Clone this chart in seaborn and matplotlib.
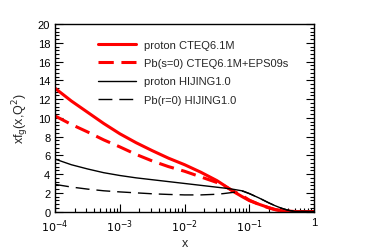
import numpy as np
import pandas as pd
import matplotlib
matplotlib.use("Agg")
import matplotlib.pyplot as plt
import matplotlib.ticker as mticker
import seaborn as sns

# values (log10 x grid)
log_x = [-4, -3.75, -3.5, -3.25, -3, -2.75, -2.5, -2.25, -2, -1.75, -1.5, -1.4,
         -1.25, -1.1, -1, -0.85, -0.7, -0.6, -0.5, -0.4, -0.3, 0]
p_cteq = [13.15, 11.8, 10.6, 9.4, 8.3, 7.35, 6.5, 5.7, 5.0, 4.2, 3.3, 2.85,
          2.15, 1.55, 1.17, 0.78, 0.42, 0.22, 0.10, 0.04, 0.01, 0.0]
pb_eps = [10.2, 9.3, 8.5, 7.65, 6.9, 6.1, 5.4, 4.8, 4.3, 3.7, 3.1, 2.8,
          2.2, 1.65, 1.22, 0.76, 0.40, 0.20, 0.09, 0.03, 0.01, 0.0]
p_hij = [5.6, 5.0, 4.55, 4.15, 3.85, 3.6, 3.4, 3.2, 3.0, 2.8, 2.6, 2.52,
         2.38, 2.2, 1.92, 1.45, 0.93, 0.62, 0.35, 0.14, 0.02, 0.0]
pb_hij = [2.9, 2.62, 2.4, 2.22, 2.1, 2.0, 1.9, 1.83, 1.78, 1.78, 1.85, 1.92,
          2.05, 2.17, 1.92, 1.45, 0.93, 0.62, 0.35, 0.14, 0.02, 0.0]

labels = ["proton CTEQ6.1M", "Pb(s=0) CTEQ6.1M+EPS09s",
          "proton HIJING1.0", "Pb(r=0) HIJING1.0"]
x_vals = [10.0 ** v for v in log_x]

sns.set_style("ticks")
plt.rcParams["font.family"] = ["Liberation Sans", "DejaVu Sans"]

fig = plt.figure(figsize=(3.7, 2.51), dpi=100, facecolor="white")
ax = fig.add_axes([0.149, 0.153, 0.70, 0.747])

styles = [
    dict(color="#ff0000", lw=2.2, ls="-"),
    dict(color="#ff0000", lw=2.2, ls=(0, (5, 2.5))),
    dict(color="black", lw=1.0, ls="-"),
    dict(color="black", lw=1.0, ls=(0, (10, 5))),
]
for ys, lab, st in zip([p_cteq, pb_eps, p_hij, pb_hij], labels, styles):
    df = pd.DataFrame({"x": x_vals, "y": ys})
    sns.lineplot(data=df, x="x", y="y", ax=ax, label=lab,
                 color=st["color"], linewidth=st["lw"], linestyle=st["ls"])

ax.set_xscale("log")
ax.set_xlim(1e-4, 1)
ax.set_ylim(0, 20)

ax.xaxis.set_minor_locator(mticker.LogLocator(base=10, subs=np.arange(2, 10), numticks=20))
ax.xaxis.set_minor_formatter(mticker.NullFormatter())
ax.set_xticks([1e-4, 1e-3, 1e-2, 1e-1, 1])
ax.set_xticklabels([r"$10^{-4}$", r"$10^{-3}$", r"$10^{-2}$", r"$10^{-1}$", "1"])
ax.yaxis.set_major_locator(mticker.MultipleLocator(2))
ax.yaxis.set_minor_locator(mticker.MultipleLocator(0.4))

ax.tick_params(which="both", direction="in", colors="black", labelsize=8,
               left=True, right=True, top=False, bottom=True, width=0.8)
ax.tick_params(which="major", length=6)
ax.tick_params(which="minor", length=3)
ax.tick_params(axis="x", pad=4)
for sp in ax.spines.values():
    sp.set_visible(True)
    sp.set_linewidth(1.0)
    sp.set_color("black")

ax.set_xlabel("x", fontsize=9, labelpad=0)
ax.set_ylabel(r"xf$_{\rm g}$(x,Q$^2$)", fontsize=9, labelpad=5)
ax.xaxis.set_label_coords(0.5, -0.135)
ax.grid(False)

ax.legend(loc="upper left", bbox_to_anchor=(0.15, 0.94), frameon=False,
          fontsize=8, handlelength=3.4, labelspacing=0.75, handletextpad=0.7,
          borderaxespad=0)

fig.savefig("out.png", dpi=100, facecolor="white")
